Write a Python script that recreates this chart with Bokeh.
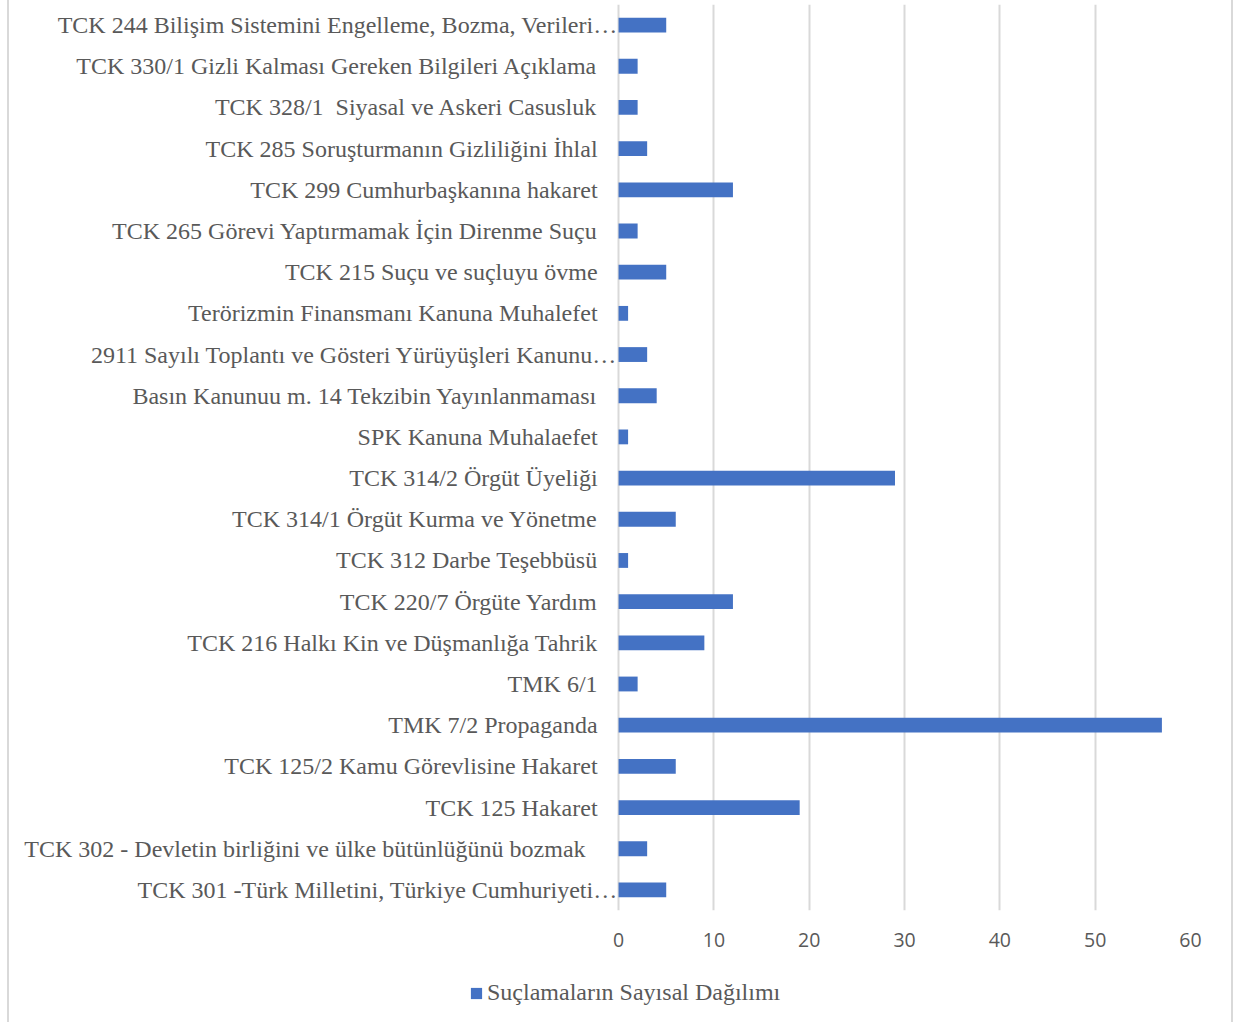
from bokeh.plotting import figure
from bokeh.layouts import column
from bokeh.models import Range1d, Legend, LegendItem, FixedTicker
from bokeh.core.properties import value
from bokeh.embed import file_html
from bokeh.resources import INLINE

# categories listed top to bottom as in the chart
categories = [
    "TCK 244 Bilişim Sistemini Engelleme, Bozma, Verileri…",
    "TCK 330/1 Gizli Kalması Gereken Bilgileri Açıklama",
    "TCK 328/1  Siyasal ve Askeri Casusluk",
    "TCK 285 Soruşturmanın Gizliliğini İhlal",
    "TCK 299 Cumhurbaşkanına hakaret",
    "TCK 265 Görevi Yaptırmamak İçin Direnme Suçu",
    "TCK 215 Suçu ve suçluyu övme",
    "Terörizmin Finansmanı Kanuna Muhalefet",
    "2911 Sayılı Toplantı ve Gösteri Yürüyüşleri Kanunu…",
    "Basın Kanunuu m. 14 Tekzibin Yayınlanmaması",
    "SPK Kanuna Muhalaefet",
    "TCK 314/2 Örgüt Üyeliği",
    "TCK 314/1 Örgüt Kurma ve Yönetme",
    "TCK 312 Darbe Teşebbüsü",
    "TCK 220/7 Örgüte Yardım",
    "TCK 216 Halkı Kin ve Düşmanlığa Tahrik",
    "TMK 6/1",
    "TMK 7/2 Propaganda",
    "TCK 125/2 Kamu Görevlisine Hakaret",
    "TCK 125 Hakaret",
    "TCK 302 - Devletin birliğini ve ülke bütünlüğünü bozmak ",
    "TCK 301 -Türk Milletini, Türkiye Cumhuriyeti…",
]
counts = [5, 2, 2, 3, 12, 2, 5, 1, 3, 4, 1, 29, 6, 1, 12, 9, 2, 57, 6, 19, 3, 5]
x_ticks = [0, 10, 20, 30, 40, 50, 60]
series_name = "Suçlamaların Sayısal Dağılımı"

n = len(categories)
ypos = [n - 1 - i for i in range(n)]
# keep runs of spaces visible in SVG text
shown = [c.replace("  ", " \u00a0").rstrip() + ("\u00a0" * 2 if c.endswith(" ") else "")
         for c in categories]

BAR = "#4472C4"
GRID = "#d9d9d9"
TEXT = "#595959"
SERIF = "Liberation Serif"
BOX_STYLES = {"margin-left": "7px",
              "border-left": "2px solid #d9d9d9",
              "border-right": "2px solid #d9d9d9"}

# layout: the frame spans the label area too; zero sits LABEL_W px from its left
FRAME_W = 1177
LABEL_W = 607
px_per_unit = (FRAME_W - LABEL_W) / (x_ticks[-1] - x_ticks[0])
x_start = -LABEL_W / px_per_unit

p = figure(width=1226, height=962, output_backend="svg", toolbar_location=None,
           x_range=Range1d(x_start, x_ticks[-1]),
           y_range=Range1d(-0.5, n - 0.5),
           min_border_left=0, min_border_right=1222 - FRAME_W, min_border_top=4,
           min_border_bottom=52)
p.styles = BOX_STYLES
p.outline_line_color = None
p.background_fill_color = "white"
p.border_fill_color = "white"

bars = p.hbar(y=ypos, right=counts, left=0, height=0.36, fill_color=BAR, line_color=None)

p.yaxis.visible = False
p.ygrid.visible = False
p.xgrid.ticker = FixedTicker(ticks=x_ticks)
p.xgrid.grid_line_color = GRID
p.xgrid.grid_line_width = 2

p.xaxis.ticker = FixedTicker(ticks=x_ticks)
p.xaxis.axis_line_color = None
p.xaxis.major_tick_line_color = None
p.xaxis.minor_tick_line_color = None
p.xaxis.major_label_standoff = 16
p.xaxis.major_label_text_font = "Open Sans"
p.xaxis.major_label_text_font_size = "19.5px"
p.xaxis.major_label_text_color = TEXT

# category labels (truncated ones run up to the axis, others stop short of it)
trunc = [c.endswith("…") for c in categories]
for flag, off in ((False, -21), (True, -1)):
    cs = [c for c, t in zip(shown, trunc) if t == flag]
    ys = [y for y, t in zip(ypos, trunc) if t == flag]
    p.text(x=[0] * len(cs), y=ys, text=cs, x_offset=off, text_align="right",
           text_baseline="middle", text_font=value(SERIF),
           text_font_size="24px", text_color=TEXT)

# legend strip below the chart (its key renderer holds the same series, hidden)
lf = figure(width=1226, height=60, output_backend="svg", toolbar_location=None,
            x_range=Range1d(0, 1), y_range=Range1d(0, 1),
            min_border_left=0, min_border_right=0, min_border_top=0,
            min_border_bottom=0)
lf.styles = BOX_STYLES
lf.axis.visible = False
lf.grid.visible = False
lf.outline_line_color = None
lf.border_fill_color = "white"
key = lf.hbar(y=ypos, right=counts, left=0, height=0.36, fill_color=BAR,
              line_color=None, visible=False)
legend = Legend(items=[LegendItem(label=series_name, renderers=[key])],
                location=(460, 16), orientation="horizontal",
                glyph_width=14, glyph_height=14, label_standoff=4,
                padding=0, margin=0, border_line_color=None,
                background_fill_alpha=0, inactive_fill_alpha=0,
                label_text_font=SERIF, label_text_font_size="24px",
                label_text_color=TEXT)
lf.add_layout(legend, "center")

layout = column(p, lf, spacing=0)
open("out.html", "w").write(file_html(layout, INLINE))
